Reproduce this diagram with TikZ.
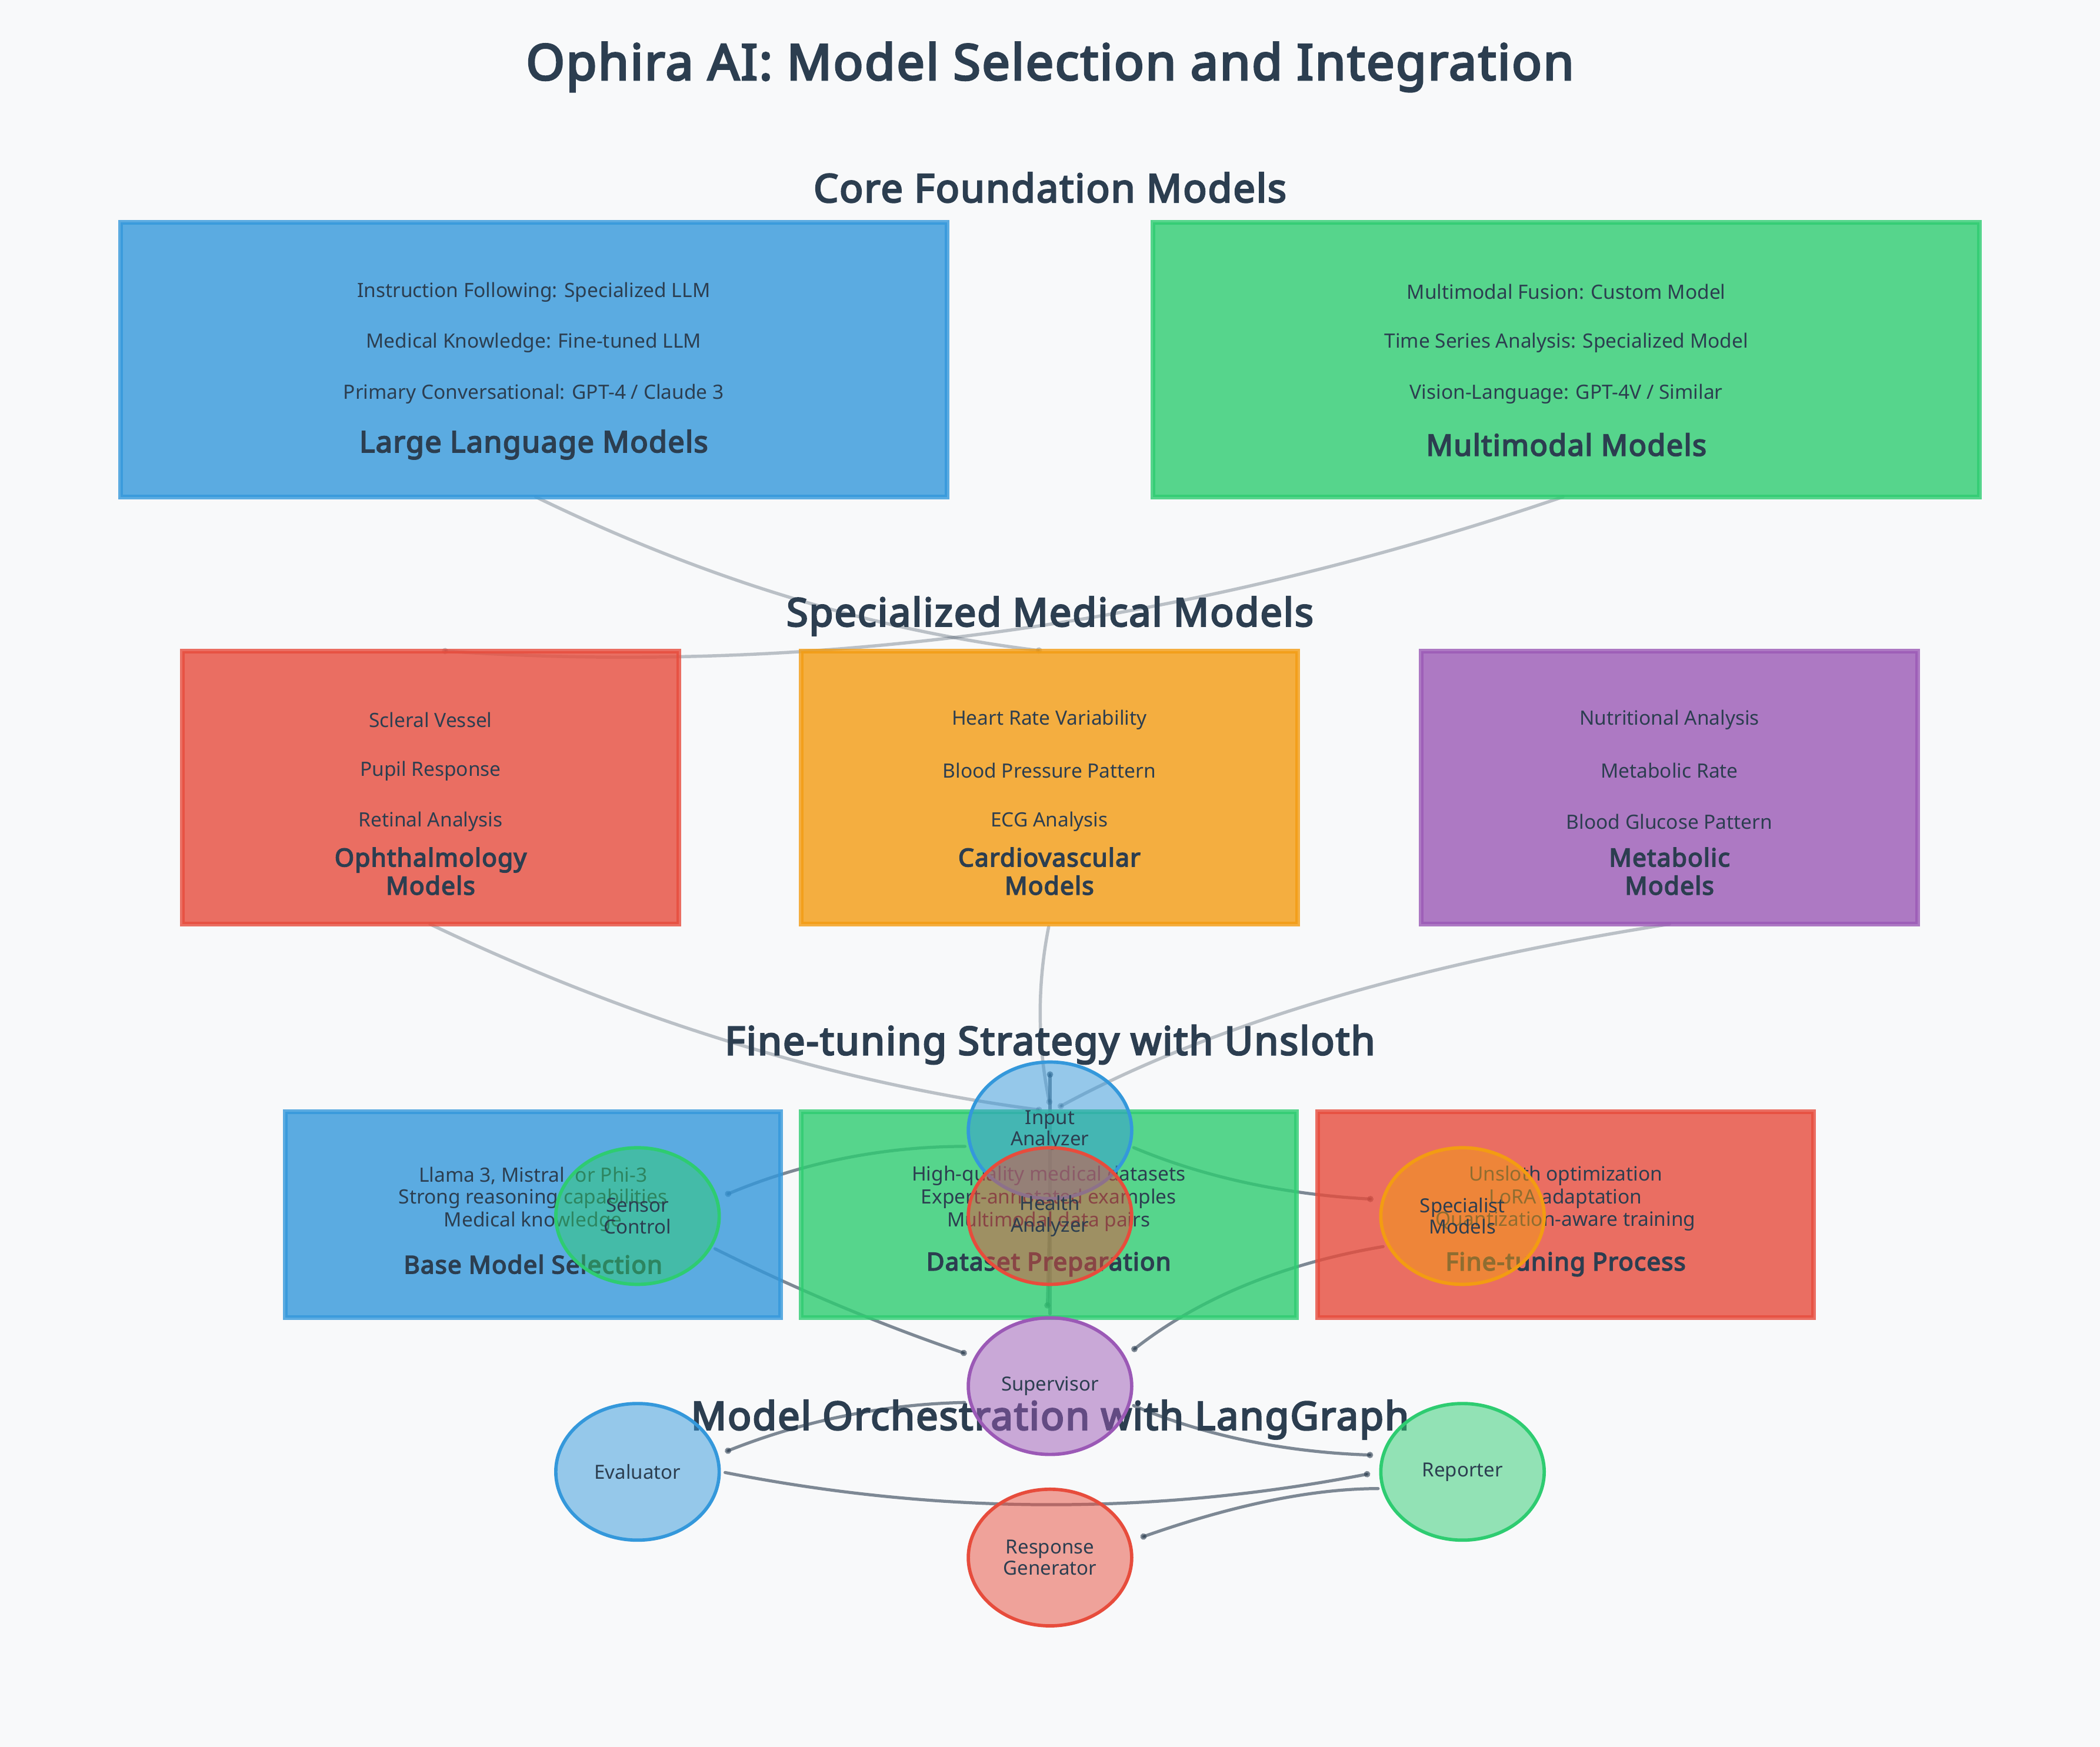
\documentclass[tikz,border=0pt]{standalone}
\usepackage{fontspec}
\setmainfont{Noto Sans}[BoldFont={Noto Sans}, BoldFeatures={FakeBold=4, LetterSpace=3}]
\usepackage{tikz}
\usetikzlibrary{positioning, calc, shapes.geometric, arrows.meta}

\definecolor{bgcol}{HTML}{F8F9FA}
\definecolor{ink}{HTML}{2C3E50}
\definecolor{cblue}{HTML}{3498DB}
\definecolor{cgreen}{HTML}{2ECC71}
\definecolor{cred}{HTML}{E74C3C}
\definecolor{corange}{HTML}{F39C12}
\definecolor{cpurple}{HTML}{9B59B6}

\pgfdeclarelayer{back}
\pgfdeclarelayer{edges}
\pgfsetlayers{back,edges,main}

\begin{document}
\begin{tikzpicture}[
  x=1pt, y=-1pt,
  font=\fontsize{14.7}{17}\selectfont,
  every node/.style={align=center, text=ink},
  maintitle/.style={font=\fontsize{37}{43}\selectfont\bfseries},
  heading/.style={font=\fontsize{29.2}{34}\selectfont\bfseries},
  modelbox/.style={rectangle, draw=#1, fill=#1, opacity=0.8, line width=3.5pt,
                   inner sep=0pt, outer sep=0pt},
  bigbox/.style={modelbox=#1, minimum width=617pt, minimum height=205pt},
  medbox/.style={modelbox=#1, minimum width=371pt, minimum height=204pt},
  tunebox/.style={modelbox=#1, minimum width=370pt, minimum height=154pt},
  item/.style={font=\fontsize{14.7}{17}\selectfont, inner sep=0pt},
  boxtitle/.style={font=\fontsize{22}{26}\selectfont\bfseries, inner sep=0pt},
  medtitle/.style={font=\fontsize{18.6}{21}\selectfont\bfseries, inner sep=0pt},
  tunetitle/.style={font=\fontsize{18.4}{21}\selectfont\bfseries, inner sep=0pt},
  agent/.style={ellipse, draw=#1, fill=#1, fill opacity=0.5, text opacity=1,
                line width=2.5pt, minimum width=122pt, minimum height=102pt,
                inner sep=0pt, font=\fontsize{14.5}{16}\selectfont},
  modellink/.style={draw=ink, opacity=0.3, line width=2.4pt, line cap=round,
                    -{Circle[length=4.6pt]}},
  flowlink/.style={draw=ink, opacity=0.6, line width=2.3pt, line cap=round,
                   -{Circle[length=4.6pt]}}
]

\useasboundingbox (0,0) rectangle (1568,1304.4);

% --- Background and headings ---
\begin{pgfonlayer}{back}
\fill[bgcol] (0,0) rectangle (1568,1304.4);
\node[maintitle] (title) at (784,50) {Ophira AI: Model Selection and Integration};
\node[heading] (hcore) at (784,140) {Core Foundation Models};
\node[heading] (hmed) at (784,460) {Specialized Medical Models};
\node[heading] (htune) at (784,780) {Fine-tuning Strategy with Unsloth};
\node[heading] (horch) at (784,1060) {Model Orchestration with LangGraph};
\end{pgfonlayer}

% --- Core foundation models ---
\node[bigbox=cblue] (llm) at (398.5,268.5) {};
\node[bigbox=cgreen, right=154pt of llm] (mm) {};
\node[item] at ($(llm.north)+(0,52)$) {Instruction Following: Specialized LLM};
\node[item] at ($(llm.north)+(0,90)$) {Medical Knowledge: Fine-tuned LLM};
\node[item] at ($(llm.north)+(0,128)$) {Primary Conversational: GPT-4 / Claude 3};
\node[boxtitle] at ($(llm.north)+(0,166)$) {Large Language Models};
\node[item] at ($(mm.north)+(0,52)$) {Multimodal Fusion: Custom Model};
\node[item] at ($(mm.north)+(0,90)$) {Time Series Analysis: Specialized Model};
\node[item] at ($(mm.north)+(0,128)$) {Vision-Language: GPT-4V / Similar};
\node[boxtitle] at ($(mm.north)+(0,166)$) {Multimodal Models};

% --- Specialized medical models ---
\node[medbox=cred] (ophth) at (321.5,588) {};
\node[medbox=corange, right=91pt of ophth] (cardio) {};
\node[medbox=cpurple, right=92pt of cardio] (metab) {};
\node[item] at ($(ophth.north)+(0,51.5)$) {Scleral Vessel};
\node[item] at ($(ophth.north)+(0,89.5)$) {Pupil Response};
\node[item] at ($(ophth.north)+(0,127.5)$) {Retinal Analysis};
\node[medtitle] at ($(ophth.north)+(0,164.5)$) {Ophthalmology\\Models};
\node[item] at ($(cardio.north)+(0,51.5)$) {Heart Rate Variability};
\node[item] at ($(cardio.north)+(0,89.5)$) {Blood Pressure Pattern};
\node[item] at ($(cardio.north)+(0,127.5)$) {ECG Analysis};
\node[medtitle] at ($(cardio.north)+(0,164.5)$) {Cardiovascular\\Models};
\node[item] at ($(metab.north)+(0,51.5)$) {Nutritional Analysis};
\node[item] at ($(metab.north)+(0,89.5)$) {Metabolic Rate};
\node[item] at ($(metab.north)+(0,127.5)$) {Blood Glucose Pattern};
\node[medtitle] at ($(metab.north)+(0,164.5)$) {Metabolic\\Models};

% --- Fine-tuning strategy ---
\node[tunebox=cblue] (base) at (398,907) {};
\node[tunebox=cgreen, right=15pt of base] (data) {};
\node[tunebox=cred, right=16pt of data] (tune) {};
\node[item] at ($(base.north)+(0,48)$) {Llama 3, Mistral, or Phi-3};
\node[item] at ($(base.north)+(0,65)$) {Strong reasoning capabilities};
\node[item] at ($(base.north)+(0,82)$) {Medical knowledge};
\node[tunetitle] at ($(base.north)+(0,114)$) {Base Model Selection};
\node[item] at ($(data.north)+(0,48)$) {High-quality medical datasets};
\node[item] at ($(data.north)+(0,65)$) {Expert-annotated examples};
\node[item] at ($(data.north)+(0,82)$) {Multimodal data pairs};
\node[tunetitle] at ($(data.north)+(0,114)$) {Dataset Preparation};
\node[item] at ($(tune.north)+(0,48)$) {Unsloth optimization};
\node[item] at ($(tune.north)+(0,65)$) {LoRA adaptation};
\node[item] at ($(tune.north)+(0,82)$) {Quantization-aware training};
\node[tunetitle] at ($(tune.north)+(0,114)$) {Fine-tuning Process};

% --- LangGraph agents ---
\node[agent=cblue] (inp) at (784,844) {Input\\Analyzer};
\node[agent=cred] (hlth) at (784,908) {Health\\Analyzer};
\node[agent=cgreen] (sens) at (476,908) {Sensor\\Control};
\node[agent=corange] (spec) at (1092,908) {Specialist\\Models};
\node[agent=cpurple] (sup) at (784,1035) {Supervisor};
\node[agent=cblue] (eval) at (476,1099) {Evaluator};
\node[agent=cgreen] (rep) at (1092,1099) {Reporter};
\node[agent=cred] (resp) at (784,1163) {Response\\Generator};

\begin{pgfonlayer}{edges}
% --- Model links ---
\draw[modellink] ($(llm.south)+(1.5,0)$) .. controls +(126,61.3) and +(-126,-15.3) .. ($(cardio.north)+(-5.5,0)$);
\draw[modellink] ($(mm.south)+(-2.5,0)$) .. controls +(-279.3,95.3) and +(278.7,18.7) .. ($(ophth.north)+(8.5,0)$);
\draw[modellink] ($(ophth.south)+(-0.5,0)$) .. controls +(152.7,72.7) and +(-152,-20) .. ($(data.north)+(-5,-1)$);
\draw[modellink] ($(cardio.south)+(-0.5,2)$) .. controls +(-8.7,44) and +(-9.3,-44.7) .. ($(data.north)+(1,-5)$);
\draw[modellink] (metab.south) .. controls +(-190.7,30) and +(113.3,-61.3) .. ($(data.north)+(7,-3)$);

% --- Agent flow ---
\draw[flowlink] ($(sup)+(0,-54)$) -- ($(inp)+(0,-44)$);
\draw[flowlink] ($(inp)+(0,48)$) -- ($(sup)+(-2,-58)$);
\draw[flowlink] ($(inp)+(-63.5,12)$) .. controls +(-61.3,0) and +(58,-24.2) .. ($(sens)+(65.5,-15.7)$);
\draw[flowlink] ($(inp)+(62.5,12.9)$) .. controls +(52.3,22) and +(-67,-3.6) .. ($(spec)+(-66.5,-12.6)$);
\draw[flowlink] ($(sens)+(57.8,24.4)$) .. controls +(60.8,30.4) and +(-64.5,-22) .. ($(sup)+(-62.2,-24)$);
\draw[flowlink] ($(spec)+(-59.3,22.8)$) .. controls +(-75.1,12.8) and +(49.9,-39.1) .. ($(sup)+(61.2,-26.3)$);
\draw[flowlink] ($(sup)+(-63.7,12.2)$) .. controls +(-60.2,1.2) and +(59.1,-23.4) .. ($(eval)+(65.4,-14.9)$);
\draw[flowlink] ($(sup)+(62.4,14.5)$) .. controls +(52.4,22.3) and +(-66.8,-2.3) .. ($(rep)+(-66.8,-12.5)$);
\draw[flowlink] ($(eval)+(65.4,0.5)$) .. controls +(160.4,31.7) and +(-160.7,31.1) .. ($(rep)+(-69,1.3)$);
\draw[flowlink] ($(rep)+(-63,12.5)$) .. controls +(-49,0) and +(69.3,-24.4) .. ($(resp)+(67.6,-14.9)$);
\end{pgfonlayer}

\end{tikzpicture}
\end{document}
